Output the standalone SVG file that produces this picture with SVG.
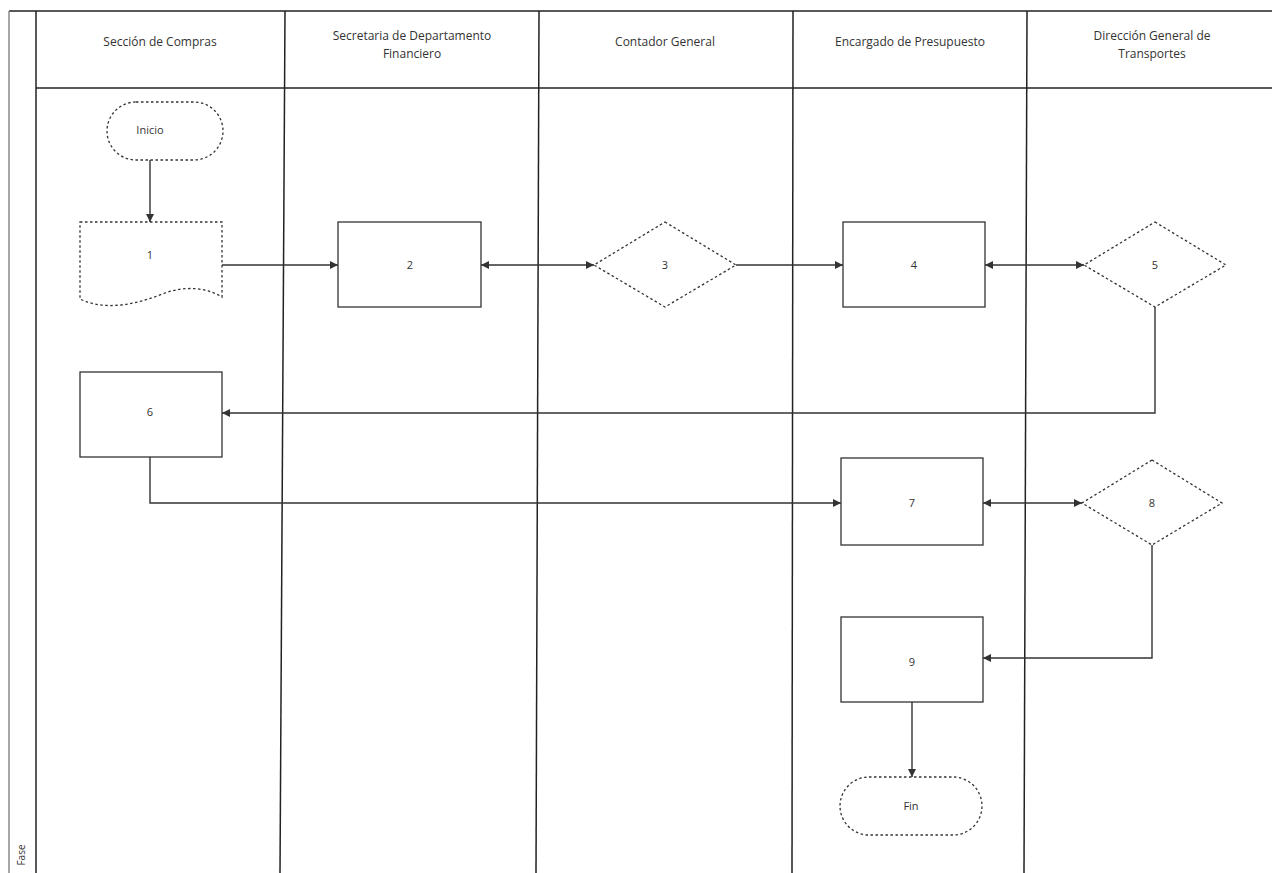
<svg xmlns="http://www.w3.org/2000/svg" width="1272" height="873" viewBox="0 0 1272 873">
<defs>
<style>
.lane{stroke:#222;stroke-width:1.5;fill:none}
.shape{fill:#fff;stroke:#333;stroke-width:1.3}
.dash{fill:#fff;stroke:#333;stroke-width:1.3;stroke-dasharray:2.5 2.5}
.conn{stroke:#333;stroke-width:1.4;fill:none}
.hdr{font-family:"Open Sans","Liberation Sans",sans-serif;font-size:12px;fill:#333;text-anchor:middle}
.lbl{font-family:"Open Sans","Liberation Sans",sans-serif;font-size:11px;fill:#333;text-anchor:middle}
</style>
<marker id="ah" viewBox="0 0 10 10" refX="10" refY="5" markerWidth="8" markerHeight="8" orient="auto-start-reverse" markerUnits="userSpaceOnUse">
<path d="M0,0 L10,5 L0,10 Z" fill="#333"/>
</marker>
</defs>
<rect x="0" y="0" width="1272" height="873" fill="#fff"/>
<g id="pool">
<line class="lane" x1="9" y1="11" x2="1272" y2="11"/>
<line x1="9" y1="11" x2="9" y2="873" stroke="#888" stroke-width="1.5"/>
<line class="lane" x1="36" y1="11" x2="36" y2="873"/>
<line class="lane" x1="36" y1="88" x2="1272" y2="88"/>
<line class="lane" x1="285" y1="11" x2="280" y2="873"/>
<line class="lane" x1="539" y1="11" x2="536" y2="873"/>
<line class="lane" x1="793" y1="11" x2="792" y2="873"/>
<line class="lane" x1="1027" y1="11" x2="1024" y2="873"/>
<text class="hdr" x="160" y="46">Sección de Compras</text>
<text class="hdr" x="412" y="40">Secretaria de Departamento</text>
<text class="hdr" x="412" y="58">Financiero</text>
<text class="hdr" x="665" y="46">Contador General</text>
<text class="hdr" x="910" y="46">Encargado de Presupuesto</text>
<text class="hdr" x="1152" y="40">Dirección General de</text>
<text class="hdr" x="1152" y="58">Transportes</text>
<text class="lbl" transform="translate(25,855) rotate(-90)" style="font-size:10px">Fase</text>
</g>
<g id="connectors">
<line class="conn" x1="150" y1="160" x2="150" y2="222" marker-end="url(#ah)"/>
<line class="conn" x1="222" y1="265" x2="338" y2="265" marker-end="url(#ah)"/>
<line class="conn" x1="481" y1="265" x2="594" y2="265" marker-start="url(#ah)" marker-end="url(#ah)"/>
<line class="conn" x1="736" y1="265" x2="843" y2="265" marker-end="url(#ah)"/>
<line class="conn" x1="985" y1="265" x2="1084" y2="265" marker-start="url(#ah)" marker-end="url(#ah)"/>
<polyline class="conn" points="1155,307 1155,413 222,413" marker-end="url(#ah)"/>
<polyline class="conn" points="150,457 150,503 841,503" marker-end="url(#ah)"/>
<line class="conn" x1="983" y1="503" x2="1082" y2="503" marker-start="url(#ah)" marker-end="url(#ah)"/>
<polyline class="conn" points="1152,545 1152,658 983,658" marker-end="url(#ah)"/>
<line class="conn" x1="912" y1="702" x2="912" y2="777" marker-end="url(#ah)"/>
</g>
<g id="inicio">
<rect class="dash" x="107" y="102" width="116" height="58" rx="29"/>
<text class="lbl" x="150" y="134">Inicio</text>
</g>
<g id="n1">
<path class="dash" d="M80,222 H222 V297 C205,287 185,286 165,293 C135,305 105,311 80,299 Z"/>
<text class="lbl" x="150" y="259">1</text>
</g>
<g id="n2">
<rect class="shape" x="338" y="222" width="143" height="85"/>
<text class="lbl" x="410" y="269">2</text>
</g>
<g id="n3">
<polygon class="dash" points="665,222 736,265 665,307 594,265"/>
<text class="lbl" x="665" y="269">3</text>
</g>
<g id="n4">
<rect class="shape" x="843" y="222" width="142" height="85"/>
<text class="lbl" x="914" y="269">4</text>
</g>
<g id="n5">
<polygon class="dash" points="1155,222 1226,265 1155,307 1084,265"/>
<text class="lbl" x="1155" y="269">5</text>
</g>
<g id="n6">
<rect class="shape" x="80" y="372" width="142" height="85"/>
<text class="lbl" x="150" y="416">6</text>
</g>
<g id="n7">
<rect class="shape" x="841" y="458" width="142" height="87"/>
<text class="lbl" x="912" y="507">7</text>
</g>
<g id="n8">
<polygon class="dash" points="1152,460 1222,503 1152,545 1082,503"/>
<text class="lbl" x="1152" y="507">8</text>
</g>
<g id="n9">
<rect class="shape" x="841" y="617" width="142" height="85"/>
<text class="lbl" x="912" y="666">9</text>
</g>
<g id="fin">
<rect class="dash" x="840" y="777" width="142" height="58" rx="29"/>
<text class="lbl" x="911" y="810">Fin</text>
</g>
</svg>
